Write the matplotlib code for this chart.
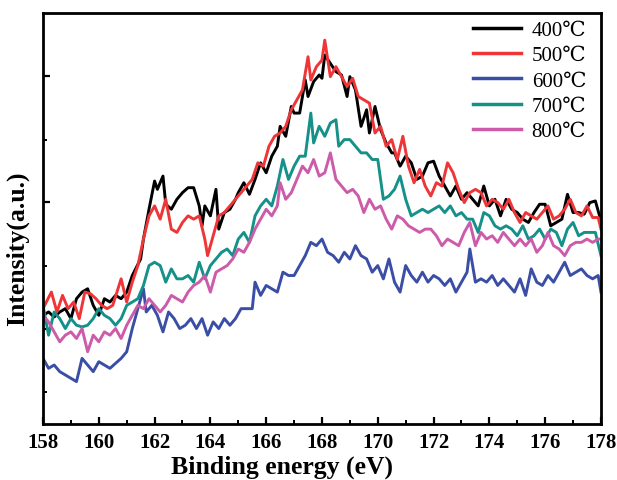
import matplotlib
matplotlib.use("Agg")
import matplotlib.pyplot as plt
from matplotlib.ticker import MultipleLocator

# ---- data (binding energy in eV, intensity in arbitrary units) ----
e_400 = [158.0,158.2,158.4,158.6,158.8,159.0,159.2,159.4,159.6,159.8,160.0,160.2,160.4,160.6,160.8,161.0,161.2,161.5,161.6,161.8,
         162.0,162.1,162.3,162.4,162.6,162.8,163.0,163.2,163.4,163.6,163.7,163.8,164.0,164.2,164.3,164.5,164.7,164.9,165.0,165.2,
         165.4,165.6,165.8,166.0,166.2,166.4,166.5,166.7,166.9,167.0,167.2,167.4,167.5,167.7,167.9,168.0,168.1,168.3,168.5,168.7,
         168.9,169.0,169.2,169.4,169.6,169.7,169.9,170.1,170.3,170.5,170.6,170.8,171.0,171.2,171.4,171.6,171.8,172.0,172.2,172.4,
         172.6,172.8,173.0,173.2,173.4,173.6,173.8,174.0,174.2,174.4,174.6,174.8,175.0,175.2,175.4,175.6,175.8,176.0,176.2,176.4,
         176.6,176.8,177.0,177.2,177.4,177.6,177.8,178.0]
i_400 = [328,338,323,338,348,318,378,398,408,358,328,378,368,388,378,398,448,498,558,648,
         733,708,748,663,648,678,698,713,713,658,598,658,628,708,588,638,648,678,698,728,
         693,738,788,758,808,838,898,868,958,938,938,1038,988,1033,1053,1043,1113,1088,1063,1053,
         988,1048,1008,898,948,878,958,888,848,818,818,778,808,788,738,748,788,793,748,718,
         688,718,678,698,678,658,718,658,678,628,678,648,638,618,608,638,663,663,598,608,
         618,693,638,638,633,668,673,613]

e_500 = [158.0,158.3,158.5,158.7,158.9,159.1,159.3,159.5,159.7,159.9,160.1,160.3,160.5,160.8,161.0,161.2,161.4,161.6,161.8,162.0,
         162.2,162.4,162.6,162.8,163.0,163.2,163.4,163.6,163.8,163.9,164.1,164.3,164.5,164.7,164.9,165.1,165.3,165.5,165.7,165.9,
         166.1,166.3,166.5,166.7,166.9,167.1,167.3,167.5,167.6,167.8,168.0,168.1,168.3,168.5,168.7,168.9,169.1,169.3,169.5,169.7,
         169.9,170.1,170.3,170.5,170.7,170.9,171.1,171.3,171.5,171.7,171.9,172.1,172.3,172.5,172.7,172.9,173.1,173.3,173.5,173.7,
         173.9,174.1,174.3,174.5,174.7,174.9,175.1,175.3,175.5,175.7,175.9,176.1,176.3,176.5,176.7,176.9,177.1,177.3,177.5,177.7,
         177.9,178.0]
i_500 = [348,398,338,388,348,368,318,398,393,378,358,348,358,438,368,428,478,558,628,658,
         618,678,588,578,608,628,618,628,558,508,568,628,638,658,678,698,718,738,788,778,
         838,868,878,898,948,978,1008,1108,1038,1078,1098,1158,1048,1078,1048,1018,1043,988,978,968,
         878,898,838,858,798,868,778,728,768,718,688,728,718,788,758,708,668,698,708,698,
         658,678,668,648,678,638,608,638,628,618,638,658,618,628,648,678,638,628,658,623,
         623,588]

e_600 = [158.0,158.2,158.4,158.6,158.8,159.0,159.2,159.4,159.6,159.8,160.0,160.2,160.4,160.6,160.8,161.0,161.2,161.4,161.6,161.7,
         161.9,162.1,162.3,162.5,162.7,162.9,163.1,163.3,163.5,163.7,163.9,164.1,164.3,164.5,164.7,164.9,165.1,165.3,165.5,165.6,
         165.8,166.0,166.2,166.4,166.6,166.8,167.0,167.2,167.4,167.6,167.8,168.0,168.2,168.4,168.6,168.8,169.0,169.2,169.4,169.6,
         169.8,170.0,170.2,170.4,170.6,170.8,171.0,171.2,171.4,171.6,171.8,172.0,172.2,172.4,172.6,172.8,173.0,173.2,173.3,173.5,
         173.7,173.9,174.1,174.3,174.5,174.7,174.9,175.1,175.3,175.5,175.7,175.9,176.1,176.3,176.5,176.7,176.9,177.1,177.3,177.5,
         177.7,177.9,178.0]
i_600 = [198,168,178,158,148,138,128,198,178,158,188,178,168,183,198,218,288,348,408,338,
         358,328,278,338,318,288,298,318,288,318,268,308,288,318,298,318,348,348,348,428,
         388,418,408,398,458,448,448,478,508,548,538,558,518,508,488,518,498,538,508,498,
         458,478,438,498,428,398,478,448,428,458,428,448,438,418,438,398,428,458,528,428,
         438,428,448,418,438,418,398,438,388,468,428,418,448,428,458,488,448,458,468,448,
         438,448,398]

e_700 = [158.0,158.2,158.4,158.6,158.8,159.0,159.2,159.4,159.6,159.8,160.0,160.2,160.4,160.6,160.8,161.0,161.2,161.4,161.6,161.8,
         162.0,162.2,162.4,162.6,162.8,163.0,163.2,163.4,163.6,163.8,164.0,164.2,164.4,164.6,164.8,165.0,165.2,165.4,165.6,165.8,
         166.0,166.2,166.4,166.6,166.8,167.0,167.2,167.4,167.6,167.7,167.9,168.1,168.3,168.5,168.6,168.8,169.0,169.2,169.4,169.6,
         169.8,170.0,170.2,170.4,170.6,170.8,171.0,171.2,171.4,171.6,171.8,172.0,172.2,172.4,172.6,172.8,173.0,173.2,173.4,173.6,
         173.8,174.0,174.2,174.4,174.6,174.8,175.0,175.2,175.4,175.6,175.8,176.0,176.2,176.4,176.6,176.8,177.0,177.2,177.4,177.6,
         177.8,178.0]
i_700 = [358,268,338,318,288,318,298,293,298,318,348,328,318,298,318,358,368,378,418,478,
         488,478,428,468,438,438,448,428,488,438,478,498,518,528,508,558,578,548,628,658,
         678,658,718,798,738,778,808,808,938,848,898,868,908,918,838,858,858,838,818,818,
         798,798,678,688,708,748,678,628,638,648,638,648,658,638,658,628,638,618,618,578,
         638,628,598,588,598,588,568,598,558,568,588,558,588,578,538,588,608,568,578,578,
         578,508]

e_800 = [158.0,158.2,158.4,158.6,158.8,159.0,159.2,159.4,159.6,159.8,160.0,160.2,160.4,160.6,160.8,161.0,161.2,161.4,161.6,161.8,
         162.0,162.2,162.4,162.6,162.8,163.0,163.2,163.4,163.6,163.8,164.0,164.2,164.4,164.6,164.8,165.0,165.2,165.4,165.6,165.8,
         166.0,166.2,166.4,166.5,166.7,166.9,167.1,167.3,167.5,167.7,167.9,168.1,168.3,168.5,168.7,168.9,169.1,169.3,169.5,169.7,
         169.9,170.1,170.3,170.5,170.7,170.9,171.1,171.3,171.5,171.7,171.9,172.1,172.3,172.5,172.7,172.9,173.1,173.3,173.5,173.7,
         173.9,174.1,174.3,174.5,174.7,174.9,175.1,175.3,175.5,175.7,175.9,176.1,176.3,176.5,176.7,176.9,177.1,177.3,177.5,177.7,
         177.9,178.0]
i_800 = [328,308,278,248,268,278,258,288,218,268,248,278,268,288,258,298,328,358,348,378,
         358,338,358,388,378,368,398,418,428,448,398,458,468,478,498,528,518,548,588,618,
         648,628,658,728,678,698,738,778,758,798,748,758,818,738,718,698,708,688,638,678,
         648,658,618,588,628,618,598,588,578,588,588,568,538,558,548,538,578,608,538,578,
         558,568,548,578,558,538,558,538,558,518,538,578,538,528,508,538,548,548,558,548,
         558,558]

labels = ["400\u2103", "500\u2103", "600\u2103", "700\u2103", "800\u2103"]
colors = ["#000000", "#EE3537", "#3A4EA6", "#15918A", "#CC5BAA"]

x_ticks = [158, 160, 162, 164, 166, 168, 170, 172, 174, 176, 178]
y_major = [288, 670, 1050]
y_minor = [98, 478, 858]

# ---- figure ----
fig = plt.figure(figsize=(6.17, 4.81), dpi=100)
ax = fig.add_axes([0.0697, 0.1164, 0.9043, 0.8545])

series = [(e_400, i_400), (e_500, i_500), (e_600, i_600), (e_700, i_700), (e_800, i_800)]
for (e, i), lab, c in zip(series, labels, colors):
    ax.plot(e, i, color=c, lw=2.1, label=lab)

ax.set_xlim(158, 178)
ax.set_ylim(0, 1240)
ax.set_xticks(x_ticks)
ax.xaxis.set_minor_locator(MultipleLocator(1))
ax.set_yticks(y_major)
ax.set_yticks(y_minor, minor=True)
ax.set_yticklabels([])

ax.tick_params(axis="both", which="major", direction="in", length=5, width=1.6, top=False, right=False)
ax.tick_params(axis="both", which="minor", direction="in", length=3, width=1.4, top=False, right=False)
ax.tick_params(axis="x", pad=6)
for lbl in ax.get_xticklabels():
    lbl.set_fontfamily("Liberation Serif")
    lbl.set_fontweight("bold")
    lbl.set_fontsize(15)

for s in ax.spines.values():
    s.set_linewidth(2.0)

ax.set_xlabel("Binding energy (eV)", fontfamily="Liberation Serif", fontweight="bold", fontsize=18.5, labelpad=1)
ax.xaxis.set_label_coords(0.428, -0.075)
ax.set_ylabel("Intensity(a.u.)", fontfamily="Liberation Serif", fontweight="bold", fontsize=18.5, labelpad=4)
ax.yaxis.set_label_coords(-0.024, 0.43)

leg = ax.legend(loc="upper right", frameon=False,
                prop={"family": ["Liberation Serif", "DejaVu Serif"], "size": 15},
                handlelength=2.3, handletextpad=0.5, labelspacing=0.27,
                borderaxespad=0.3, bbox_to_anchor=(1.0, 1.017))
for h in leg.get_lines():
    h.set_linewidth(2.5)

fig.savefig("out.png", dpi=100)
